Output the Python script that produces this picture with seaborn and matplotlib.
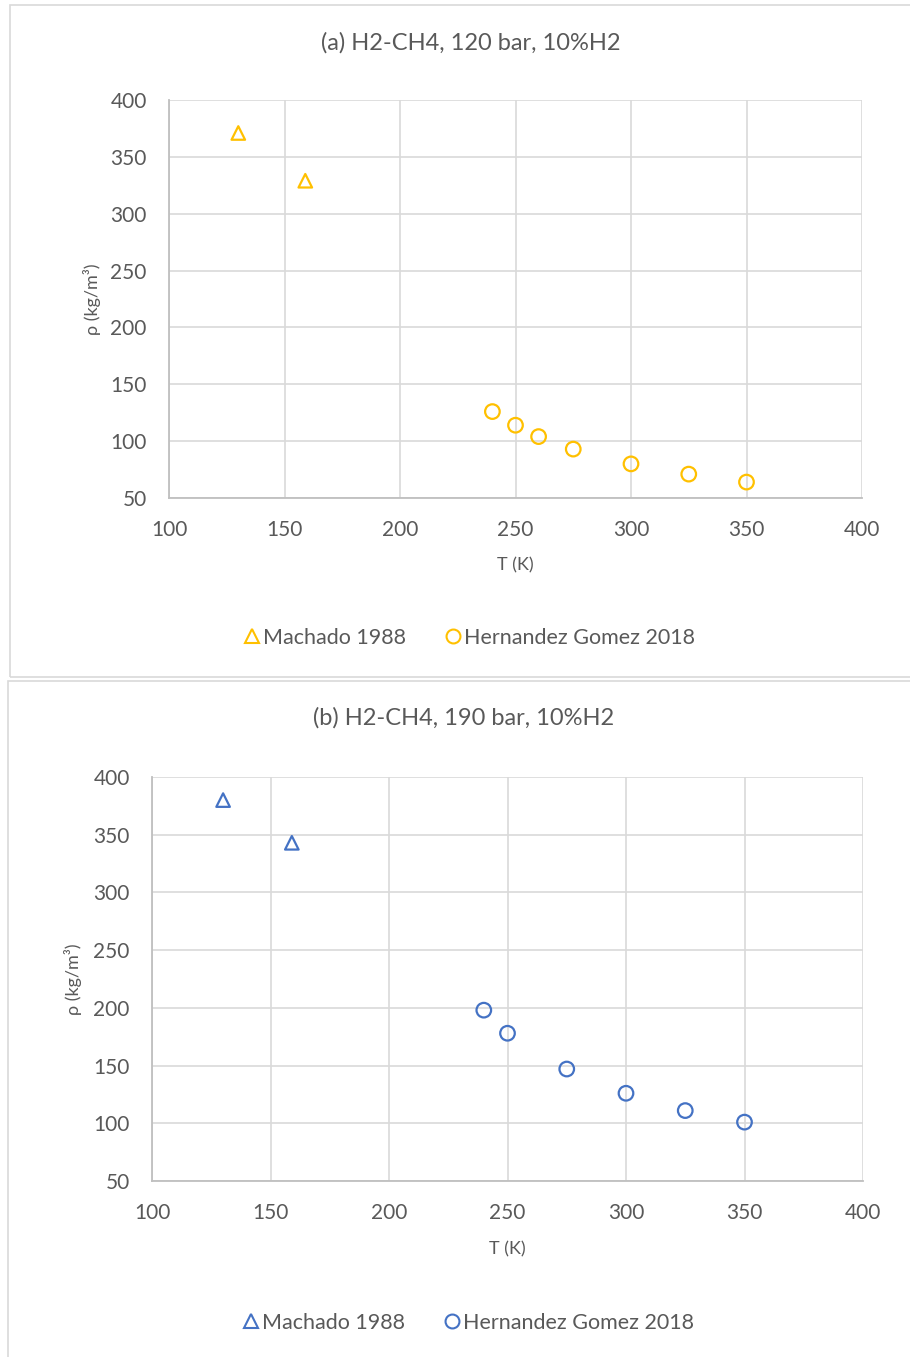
import matplotlib
matplotlib.use("Agg")
import matplotlib.pyplot as plt
from matplotlib.patches import Rectangle
from matplotlib.lines import Line2D
import seaborn as sns
import pandas as pd

# Panel (a): 120 bar, 10 % H2
a_machado_T = [130, 159]
a_machado_rho = [371, 329]
a_hg_T = [240, 250, 260, 275, 300, 325, 350]
a_hg_rho = [126, 114, 104, 93, 80, 71, 64]

# Panel (b): 190 bar, 10 % H2
b_machado_T = [130, 159]
b_machado_rho = [380, 343]
b_hg_T = [240, 250, 275, 300, 325, 350]
b_hg_rho = [198, 178, 147, 126, 111, 101]

titles = ["(a) H2-CH4, 120 bar, 10%H2", "(b) H2-CH4, 190 bar, 10%H2"]
series_names = ["Machado 1988", "Hernandez Gomez 2018"]
x_ticks = [100, 150, 200, 250, 300, 350, 400]
y_ticks = [50, 100, 150, 200, 250, 300, 350, 400]

YELLOW = "#FFC000"
BLUE = "#4472C4"
TEXT = "#595959"
GRID = "#D9D9D9"
AXIS = "#BFBFBF"

sns.set_theme(style="white")
plt.rcParams["font.family"] = ["Lato", "DejaVu Sans"]

W, H = 910, 1357
fig = plt.figure(figsize=(W / 100, H / 100), dpi=100)


def fx(px):
    return px / W


def fy(py):
    return 1 - py / H


# chart-area frames
fig.patches.append(Rectangle((fx(10), fy(677)), fx(920 - 10), (677 - 5) / H,
                             transform=fig.transFigure, fill=False,
                             edgecolor=GRID, linewidth=1.2))
fig.patches.append(Rectangle((fx(8), fy(1370)), fx(920 - 8), (1370 - 681) / H,
                             transform=fig.transFigure, fill=False,
                             edgecolor=GRID, linewidth=1.2))

panels = [
    dict(box=(169, 100, 862, 498), color=YELLOW,
         m=(a_machado_T, a_machado_rho), h=(a_hg_T, a_hg_rho),
         title_x=471, title_y=43, xlabel_y=565, ylabel_x=92,
         legend_y=638, legend_x=470),
    dict(box=(152, 777, 863, 1181), color=BLUE,
         m=(b_machado_T, b_machado_rho), h=(b_hg_T, b_hg_rho),
         title_x=464, title_y=718, xlabel_y=1249, ylabel_x=73,
         legend_y=1323, legend_x=469),
]

for i, p in enumerate(panels):
    x0, y0, x1, y1 = p["box"]
    ax = fig.add_axes([fx(x0), fy(y1), (x1 - x0) / W, (y1 - y0) / H])
    col = p["color"]

    dm = pd.DataFrame({"T": p["m"][0], "rho": p["m"][1]})
    dh = pd.DataFrame({"T": p["h"][0], "rho": p["h"][1]})
    sns.scatterplot(data=dm, x="T", y="rho", ax=ax, marker="^", s=95,
                    facecolors="none", edgecolor=col, linewidth=1.6, zorder=3)
    sns.scatterplot(data=dh, x="T", y="rho", ax=ax, marker="o", s=110,
                    facecolors="none", edgecolor=col, linewidth=1.6, zorder=3)

    ax.set_xlim(100, 400)
    ax.set_ylim(50, 400)
    ax.set_xticks(x_ticks)
    ax.set_yticks(y_ticks)
    ax.grid(True, color=GRID, linewidth=1.2)
    ax.set_axisbelow(True)
    for side in ["top", "right"]:
        ax.spines[side].set_visible(False)
    for side in ["left", "bottom"]:
        ax.spines[side].set_color(AXIS)
        ax.spines[side].set_linewidth(1.3)
    ax.tick_params(axis="x", length=0, labelsize=15, labelcolor=TEXT, pad=16)
    ax.tick_params(axis="y", length=0, labelsize=15, labelcolor=TEXT, pad=16)
    ax.set_xlabel("")
    ax.set_ylabel("")

    fig.text(fx(p["title_x"]), fy(p["title_y"]), titles[i],
             ha="center", va="center", fontsize=17, color=TEXT)
    fig.text(fx((x0 + x1) / 2), fy(p["xlabel_y"]), "T (K)",
             ha="center", va="center", fontsize=13, color=TEXT)
    fig.text(fx(p["ylabel_x"]), fy((y0 + y1) / 2), "ρ (kg/m³)", rotation=90,
             ha="center", va="center", fontsize=13, color=TEXT)

    handles = [
        Line2D([], [], marker="^", linestyle="none", markersize=10,
               markerfacecolor="none", markeredgecolor=col, markeredgewidth=1.5),
        Line2D([], [], marker="o", linestyle="none", markersize=10,
               markerfacecolor="none", markeredgecolor=col, markeredgewidth=1.5),
    ]
    leg = fig.legend(handles, series_names, loc="center",
                     bbox_to_anchor=(fx(p["legend_x"]), fy(p["legend_y"])),
                     ncol=2, frameon=False, fontsize=15.5, handlelength=0.6,
                     handletextpad=0.2, columnspacing=1.9)
    for t in leg.get_texts():
        t.set_color(TEXT)

fig.savefig("out.png", dpi=100)
